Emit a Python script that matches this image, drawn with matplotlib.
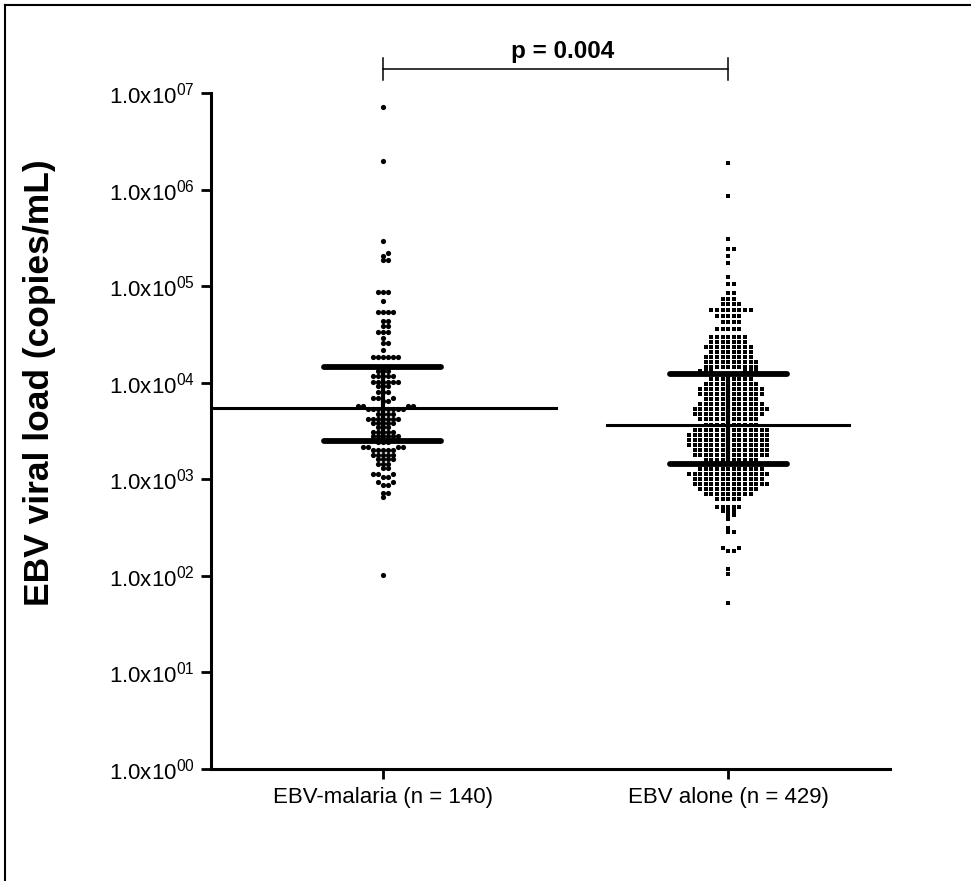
import numpy as np
import matplotlib
matplotlib.use("Agg")
import matplotlib.pyplot as plt
import matplotlib.transforms as mtransforms
from matplotlib.lines import Line2D

plt.rcParams["font.family"] = ["Liberation Sans", "DejaVu Sans"]
plt.rcParams["mathtext.default"] = "regular"

GROUPS = ["EBV-malaria (n = 140)", "EBV alone (n = 429)"]

# dot rows: log10(copies/mL) and number of dots in each row
malaria_log = [6.855, 6.296, 5.468, 5.344, 5.313, 5.271, 4.940, 4.847, 4.733, 4.640,
               4.588, 4.526, 4.464, 4.412, 4.340, 4.267, 4.164, 4.122, 4.070, 4.008,
               3.967, 3.905, 3.843, 3.812, 3.760, 3.729, 3.677, 3.625, 3.584, 3.542,
               3.491, 3.449, 3.387, 3.335, 3.304, 3.253, 3.211, 3.159, 3.118, 3.056,
               3.025, 2.973, 2.942, 2.859, 2.818, 2.010]
malaria_n = [1, 1, 1, 1, 1, 2, 3, 1, 4, 2,
             2, 3, 1, 2, 1, 6, 2, 3, 5, 6,
             3, 3, 3, 2, 4, 8, 4, 7, 5, 3,
             5, 6, 3, 4, 5, 5, 4, 3, 2, 3,
             2, 2, 2, 2, 1, 1]

alone_log = [6.275, 5.934, 5.489, 5.385, 5.313, 5.240, 5.095, 5.023, 4.930, 4.867,
             4.816, 4.754, 4.692, 4.629, 4.557, 4.474, 4.422, 4.371, 4.319, 4.267,
             4.215, 4.164, 4.122, 4.091, 4.039, 3.988, 3.936, 3.884, 3.832, 3.781,
             3.729, 3.677, 3.625, 3.563, 3.511, 3.460, 3.408, 3.356, 3.304, 3.253,
             3.201, 3.159, 3.108, 3.056, 3.004, 2.952, 2.901, 2.849, 2.797, 2.714,
             2.673, 2.631, 2.590, 2.497, 2.455, 2.290, 2.259, 2.072, 2.021, 1.720]
alone_n = [1, 1, 1, 2, 1, 1, 1, 2, 2, 3,
           4, 8, 5, 4, 5, 7, 7, 9, 8, 9,
           10, 10, 6, 5, 8, 10, 12, 12, 10, 12,
           14, 13, 11, 10, 14, 15, 15, 15, 14, 14,
           10, 8, 12, 15, 13, 14, 11, 9, 5, 5,
           3, 2, 1, 1, 2, 2, 2, 1, 1, 1]

# median and interquartile range (copies/mL)
medians = [5480, 3630]
q1 = [2480, 1440]
q3 = [14600, 12300]
P_TEXT = "p = 0.004"

malaria = 10.0 ** np.repeat(malaria_log, malaria_n)
alone = 10.0 ** np.repeat(alone_log, alone_n)


def swarm(y_px, step, min_dy):
    """grid beeswarm: returns column index for each point (pixel y input)"""
    cols = np.zeros(len(y_px), dtype=int)
    placed = []
    for i in np.argsort(y_px, kind="stable"):
        near = [c for (c, yy) in placed if abs(yy - y_px[i]) < min_dy]
        k = 0
        while True:
            cand = [0] if k == 0 else [k, -k]
            free = [c for c in cand if c not in near]
            if free:
                cols[i] = free[0]
                break
            k += 1
        placed.append((cols[i], y_px[i]))
    return cols


fig = plt.figure(figsize=(9.71, 8.81), dpi=100)
ax = fig.add_axes([0.2173, 0.1271, 0.6993, 0.7673])
ax.set_yscale("log")
ax.set_ylim(1, 1e7)
ax.set_xlim(0.503, 2.468)

px_per_unit = ax.transData.transform((2, 1))[0] - ax.transData.transform((1, 1))[0]

for xc, vals, marker, size, step in [(1, malaria, "o", 14, 5.0), (2, alone, "s", 11.5, 5.6)]:
    ypx = ax.transData.transform(np.column_stack([np.full(len(vals), xc), vals]))[:, 1]
    cols = swarm(ypx, step, 3.6)
    xs = xc + cols * step / px_per_unit
    ax.scatter(xs, vals, s=size, marker=marker, color="black", linewidths=0, zorder=3)

# median line + IQR bars
for xc, med, lo, hi, half in zip([1, 2], medians, q1, q3, [0.5, 0.35]):
    ax.plot([xc - half, xc + half], [med, med], color="black", lw=2.2, zorder=4)
    ax.plot([xc, xc], [lo, hi], color="black", lw=3.0, zorder=4)
    for v in (lo, hi):
        ax.plot([xc - 0.17, xc + 0.17], [v, v], color="black", lw=4.2,
                solid_capstyle="round", zorder=4)

# significance bracket
trans = mtransforms.blended_transform_factory(ax.transData, ax.transAxes)
ax.plot([1, 2], [1.0355, 1.0355], color="black", lw=1.1, transform=trans, clip_on=False)
for xc in (1, 2):
    ax.plot([xc, xc], [1.0192, 1.0518], color="black", lw=1.1, transform=trans, clip_on=False)
ax.text(1.52, 1.062, P_TEXT, transform=trans, ha="center", va="center",
        fontsize=17.5, fontweight="bold")

ax.set_yticks(10.0 ** np.arange(0, 8))
ax.set_yticklabels([r"$\mathregular{1.0x10^{%02d}}$" % e for e in range(8)])
ax.yaxis.set_minor_locator(matplotlib.ticker.NullLocator())
ax.set_xticks([1, 2])
ax.set_xticklabels(GROUPS)

for s in ("top", "right"):
    ax.spines[s].set_visible(False)
for s in ("left", "bottom"):
    ax.spines[s].set_linewidth(2.2)
ax.tick_params(axis="y", length=7, width=2, pad=5, labelsize=16)
ax.tick_params(axis="x", length=7, width=2, pad=6, labelsize=16)

fig.text(40 / 971, 1 - 383 / 881, "EBV viral load (copies/mL)", rotation=90,
         ha="center", va="center", fontsize=25.5, fontweight="bold")

# frame around the figure (left and top edges visible)
fig.add_artist(Line2D([5 / 971, 5 / 971], [0, 1 - 5 / 881], color="black", lw=1.5))
fig.add_artist(Line2D([5 / 971, 1], [1 - 5 / 881, 1 - 5 / 881], color="black", lw=1.5))

fig.savefig("out.png", dpi=100)
